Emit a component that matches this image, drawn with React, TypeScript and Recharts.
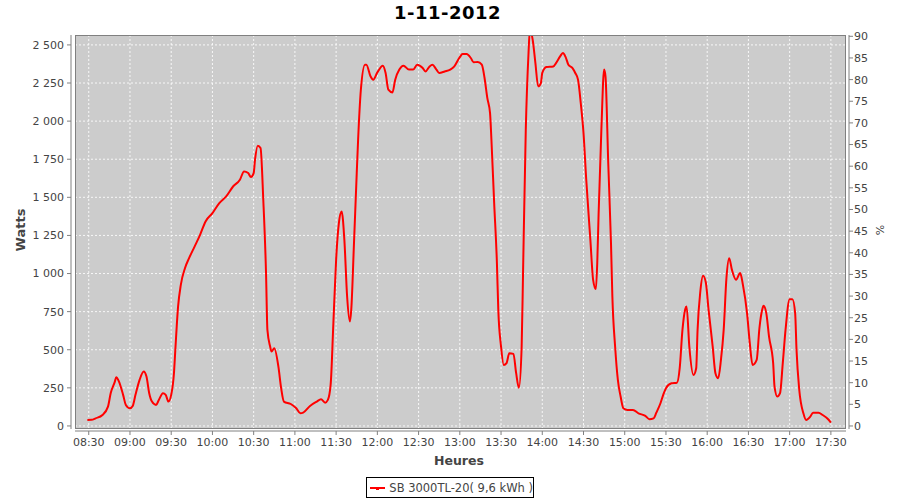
import React from 'react';
import { LineChart, Line, XAxis, YAxis, CartesianGrid, Legend } from 'recharts';

const chartTitle = '1-11-2012';
const seriesName = 'SB 3000TL-20( 9,6 kWh )';
const xAxisTitle = 'Heures';
const leftAxisTitle = 'Watts';
const rightAxisTitle = '%';

const times = [
  '08:29', '08:32', '08:35', '08:40', '08:44', '08:46', '08:49', '08:50', '08:52', '08:55',
  '08:57', '09:00', '09:02', '09:04', '09:07', '09:10', '09:12', '09:14', '09:16', '09:19',
  '09:21', '09:24', '09:26', '09:28', '09:30', '09:32', '09:33', '09:35', '09:37', '09:40',
  '09:43', '09:47', '09:51', '09:55', '10:00', '10:05', '10:10', '10:15', '10:20', '10:23',
  '10:26', '10:28', '10:30', '10:31', '10:33', '10:35', '10:37', '10:39', '10:40', '10:42',
  '10:43', '10:45', '10:48', '10:50', '10:52', '10:57', '11:01', '11:04', '11:06', '11:11',
  '11:16', '11:19', '11:22', '11:24', '11:26', '11:28', '11:30', '11:32', '11:34', '11:36',
  '11:38', '11:40', '11:41', '11:43', '11:45', '11:46', '11:48', '11:51', '11:52', '11:55',
  '11:57', '12:00', '12:04', '12:06', '12:08', '12:11', '12:13', '12:16', '12:19', '12:23',
  '12:26', '12:29', '12:33', '12:35', '12:38', '12:40', '12:43', '12:45', '12:49', '12:53',
  '12:56', '13:00', '13:02', '13:05', '13:08', '13:10', '13:13', '13:16', '13:18', '13:20',
  '13:22', '13:23', '13:25', '13:27', '13:28', '13:30', '13:32', '13:34', '13:36', '13:39',
  '13:41', '13:43', '13:45', '13:46', '13:48', '13:50', '13:51', '13:53', '13:55', '13:57',
  '13:59', '14:00', '14:03', '14:08', '14:10', '14:13', '14:15', '14:17', '14:19', '14:22',
  '14:24', '14:26', '14:28', '14:30', '14:32', '14:35', '14:37', '14:39', '14:40', '14:41',
  '14:43', '14:45', '14:46', '14:48', '14:50', '14:51', '14:53', '14:55', '14:57', '14:59',
  '15:02', '15:06', '15:10', '15:15', '15:18', '15:21', '15:23', '15:26', '15:28', '15:30',
  '15:34', '15:38', '15:40', '15:42', '15:44', '15:45', '15:47', '15:50', '15:52', '15:53',
  '15:55', '15:57', '15:59', '16:01', '16:04', '16:06', '16:08', '16:10', '16:12', '16:14',
  '16:16', '16:18', '16:21', '16:24', '16:26', '16:29', '16:31', '16:33', '16:36', '16:38',
  '16:40', '16:41', '16:43', '16:45', '16:48', '16:49', '16:51', '16:53', '16:55', '16:57',
  '17:00', '17:02', '17:04', '17:05', '17:07', '17:10', '17:12', '17:15', '17:17', '17:21',
  '17:24', '17:28', '17:30',
];

const watts = [
  39, 40, 50, 72, 127, 216, 291, 320, 291, 204,
  138, 116, 131, 204, 302, 357, 324, 215, 160, 138,
  171, 215, 204, 160, 204, 346, 499, 783, 926, 1035,
  1101, 1177, 1254, 1342, 1396, 1462, 1506, 1571, 1615, 1670,
  1659, 1633, 1659, 1747, 1839, 1823, 1484, 1003, 630, 521,
  488, 510, 389, 248, 160, 144, 116, 83, 87, 131,
  160, 175, 153, 171, 269, 674, 1090, 1331, 1407, 1221,
  849, 685, 762, 1200, 1659, 1878, 2206, 2370, 2370, 2294,
  2272, 2320, 2364, 2316, 2206, 2188, 2272, 2338, 2364, 2338,
  2338, 2370, 2348, 2326, 2359, 2370, 2338, 2316, 2326, 2338,
  2359, 2420, 2440, 2440, 2414, 2386, 2388, 2370, 2283, 2152,
  2053, 1878, 1462, 1068, 762, 521, 400, 412, 477, 473,
  346, 250, 521, 1000, 1944, 2447, 2600, 2535, 2381, 2228,
  2250, 2316, 2355, 2359, 2381, 2425, 2447, 2420, 2370, 2348,
  2316, 2272, 2119, 1922, 1615, 1221, 959, 898, 1068, 1396,
  1944, 2338, 2294, 1725, 1200, 849, 521, 302, 193, 116,
  105, 105, 83, 66, 44, 50, 87, 149, 204, 248,
  280, 284, 379, 630, 766, 783, 521, 335, 379, 630,
  882, 985, 941, 762, 521, 346, 313, 433, 630, 970,
  1101, 1024, 959, 1003, 926, 740, 543, 400, 433, 641,
  762, 788, 740, 586, 412, 258, 193, 215, 412, 630,
  832, 832, 740, 499, 236, 83, 39, 61, 87, 87,
  72, 44, 22,
];

const xTickLabels = [
  '08:30', '09:00', '09:30', '10:00', '10:30', '11:00', '11:30', '12:00', '12:30', '13:00',
  '13:30', '14:00', '14:30', '15:00', '15:30', '16:00', '16:30', '17:00', '17:30',
];
const wattTicks = [0, 250, 500, 750, 1000, 1250, 1500, 1750, 2000, 2250, 2500];
const pctTicks = [0, 5, 10, 15, 20, 25, 30, 35, 40, 45, 50, 55, 60, 65, 70, 75, 80, 85, 90];

const toMin = (s: string) => {
  const [h, m] = s.split(':').map(Number);
  return h * 60 + m;
};
const fmtTime = (v: number) =>
  `${String(Math.floor(v / 60)).padStart(2, '0')}:${String(Math.round(v % 60)).padStart(2, '0')}`;
const fmtWatts = (v: number) =>
  v >= 1000 ? `${Math.floor(v / 1000)} ${String(v % 1000).padStart(3, '0')}` : String(v);

const data = times.map((t, i) => ({ t: toMin(t), w: watts[i] }));
const xTicks = xTickLabels.map(toMin);

const FONT = 'DejaVu Sans';
const tickStyle = { fill: '#444444', fontSize: 11, fontFamily: FONT };

const renderLegend = (props: any) => {
  const item = props.payload && props.payload[0];
  const color = item ? item.color : '#ff0000';
  return (
    <div
      style={{
        boxSizing: 'border-box',
        width: 168,
        height: 21,
        border: '1px solid #000',
        display: 'flex',
        alignItems: 'center',
        paddingLeft: 2,
        fontFamily: FONT,
        fontSize: 11.5,
        color: '#444444',
        background: '#fff',
        whiteSpace: 'nowrap',
      }}
    >
      <svg width={18} height={8} style={{ marginRight: 3 }}>
        <line x1={1} y1={4} x2={16} y2={4} stroke={color} strokeWidth={2} />
        <rect x={7} y={3} width={3} height={3} fill={color} />
      </svg>
      <span>{item ? item.value : seriesName}</span>
    </div>
  );
};

export default function App() {
  return (
    <div style={{ position: 'absolute', left: 0, top: 0, width: 900, height: 500, background: '#fff' }}>
      <div
        style={{
          position: 'absolute',
          left: 0,
          top: 2,
          width: 895,
          textAlign: 'center',
          fontFamily: FONT,
          fontWeight: 'bold',
          fontSize: 18,
          letterSpacing: 0.5,
          color: '#000',
          zIndex: 2,
        }}
      >
        {chartTitle}
      </div>
      <LineChart
        width={900}
        height={500}
        data={data}
        margin={{ top: 35, right: 4, bottom: 41, left: 0 }}
      >
        <CartesianGrid
          yAxisId="left"
          stroke="#ffffff"
          strokeOpacity={0.85}
          strokeDasharray="2 2"
          fill="#cccccc"
          fillOpacity={1}
        />
        <XAxis
          dataKey="t"
          type="number"
          domain={[500, 1061]}
          allowDataOverflow
          ticks={xTicks}
          interval={0}
          tickFormatter={fmtTime}
          height={30}
          tickSize={4}
          tickMargin={5}
          tick={tickStyle}
          axisLine={{ stroke: '#808080', transform: 'translate(0,2)' }}
          tickLine={{ stroke: '#808080', transform: 'translate(0,2)' }}
          label={{
            content: () => (
              <text x={459} y={465} textAnchor="middle" fontFamily={FONT} fontWeight="bold" fontSize={12.5} fill="#444444">
                {xAxisTitle}
              </text>
            ),
          }}
        />
        <YAxis
          yAxisId="left"
          orientation="left"
          width={75}
          domain={[-20, 2565]}
          allowDataOverflow
          ticks={wattTicks}
          interval={0}
          tickFormatter={fmtWatts}
          tickSize={4}
          tickMargin={7}
          tick={tickStyle}
          axisLine={{ stroke: '#808080', transform: 'translate(-4,0)' }}
          tickLine={{ stroke: '#808080', transform: 'translate(-4,0)' }}
          label={{
            content: () => (
              <text
                x={25}
                y={230}
                transform="rotate(-90 25 230)"
                textAnchor="middle"
                fontFamily={FONT}
                fontWeight="bold"
                fontSize={13}
                fill="#444444"
              >
                {leftAxisTitle}
              </text>
            ),
          }}
        />
        <YAxis
          yAxisId="right"
          orientation="right"
          width={50}
          domain={[-0.7, 90.3]}
          allowDataOverflow
          ticks={pctTicks}
          interval={0}
          tickSize={4}
          tickMargin={4}
          tick={tickStyle}
          axisLine={{ stroke: '#808080', transform: 'translate(3,0)' }}
          tickLine={{ stroke: '#808080', transform: 'translate(3,0)' }}
          label={{
            content: () => (
              <text
                x={884}
                y={230}
                transform="rotate(-90 884 230)"
                textAnchor="middle"
                fontFamily={FONT}
                fontSize={11}
                fill="#444444"
              >
                {rightAxisTitle}
              </text>
            ),
          }}
        />
        <Line
          yAxisId="left"
          dataKey="w"
          name={seriesName}
          type="monotone"
          stroke="#ff0000"
          strokeWidth={2}
          dot={false}
          activeDot={false}
          isAnimationActive={false}
        />
        <Legend
          layout="horizontal"
          verticalAlign="middle"
          align="center"
          content={renderLegend}
          wrapperStyle={{ left: 366, top: 477, width: 168, height: 21 }}
        />
      </LineChart>
      <div
        style={{
          position: 'absolute',
          left: 75,
          top: 35,
          width: 771,
          height: 394,
          boxSizing: 'border-box',
          border: '1px solid #808080',
          pointerEvents: 'none',
        }}
      />
    </div>
  );
}
